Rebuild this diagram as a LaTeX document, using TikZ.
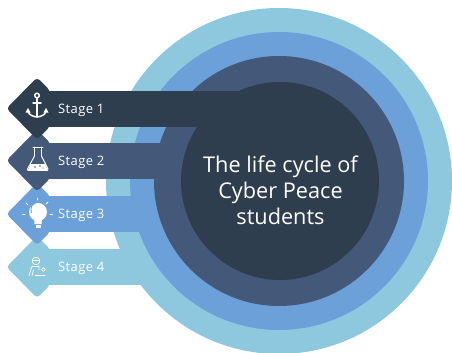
\documentclass[tikz,border=0pt]{standalone}
\usepackage{fontspec}
\setmainfont{Open Sans}
\newfontfamily\stagefont[LetterSpace=3]{Open Sans}
\definecolor{cA}{HTML}{2F3E4E}
\definecolor{cB}{HTML}{44597A}
\definecolor{cC}{HTML}{6CA0D8}
\definecolor{cD}{HTML}{8EC8DE}
\tikzset{
  stagelabel/.style={text=white,font=\stagefont\fontsize{13}{15}\selectfont,anchor=west,inner sep=0pt},
  titlelabel/.style={text=white,font=\fontsize{21.7}{26}\selectfont,align=center,inner sep=0pt},
  ico/.style={draw=white,line width=1.5pt,line cap=round,line join=round},
  icothin/.style={draw=white,line width=.9pt,line cap=round,line join=round},
  icofaint/.style={draw=white,line width=.7pt,line cap=round,line join=round},
}
% #1 colour, #2 centre y, #3 bar end x
\newcommand{\stagearrow}[3]{%
  \fill[#1,rounded corners=3.5pt] (6.5,#2) -- (37,#2+31) -- (50,#2+18) -- (50,#2-18) -- (37,#2-31) -- cycle;
  \fill[#1] (49,#2-18) rectangle (#3,#2+18);
}
\begin{document}
\begin{tikzpicture}[x=1pt,y=-1pt]
\useasboundingbox (0,0) rectangle (452,353);
% ring 4 and stage 4
\fill[cD] (279,181) circle[radius=173];
\stagearrow{cD}{267}{200}
% ring 3 and stage 3
\fill[cC] (279,181) circle[radius=149];
\stagearrow{cC}{214}{200}
% ring 2 and stage 2
\fill[cB] (279,181) circle[radius=125];
\stagearrow{cB}{160.5}{230}
% core and stage 1
\fill[cA] (280,181) circle[radius=99];
\stagearrow{cA}{108.5}{280}
% anchor icon
\draw[ico] (37,95.5) circle[radius=2.3];
\draw[ico] (37,98.5) -- (37,117);
\draw[ico] (33,103) -- (41,103);
\draw[ico] (28,111.5) .. controls (29,115) and (33,116.5) .. (37,117) .. controls (41,116.5) and (45,115) .. (46,111.5);
\fill[white] (25.5,112.5) -- (30.5,112.5) -- (28,108) -- cycle;
\fill[white] (43.5,112.5) -- (48.5,112.5) -- (46,108) -- cycle;
% flask icon
\draw[icothin] (33,147) -- (43,147);
\draw[icothin] (34.5,147) -- (34.5,156) -- (27.5,169) -- (28,170.5) -- (47.5,170.5) -- (48,169) -- (41.5,156) -- (41.5,147);
\fill[white] (30.5,164) -- (45,164) -- (47.5,170) -- (28,170) -- cycle;
\fill[cB] (35,167) circle[radius=.8] (40,166) circle[radius=.8] (43,168) circle[radius=.6];
% bulb icon
\fill[white] (38,212) circle[radius=9];
\fill[white] (34,217) -- (42,217) -- (41.5,224) -- (34.5,224) -- cycle;
\fill[white] (35.5,225) rectangle (40.5,228);
\draw[cC,line width=.9pt] (31.5,213) .. controls (30,207) and (32,204.5) .. (35,203.5);
\draw[icothin] (22.5,214) -- (25,214);
\draw[icothin] (50,214) -- (52.5,214);
\draw[icothin] (26,203) -- (28,205);
\draw[icothin] (48,202) -- (46,204);
\draw[icothin] (37,198) -- (37,200);
% person icon
\draw[icofaint] (36,261) circle[radius=3.8];
\draw[icofaint] (32.5,260) -- (39.5,260);
\draw[icofaint] (29,275.5) -- (32,266.5) -- (39,266.5) -- (39,270);
\draw[icofaint] (32,275.5) -- (33.5,270);
\draw[icofaint] (35,275.5) -- (45,275.5);
\draw[icofaint] (43.5,269.5) circle[radius=1.8];
% labels
\node[stagelabel] (s1) at (58,110) {Stage 1};
\node[stagelabel] (s2) at (58,162) {Stage 2};
\node[stagelabel] (s3) at (58,215) {Stage 3};
\node[stagelabel] (s4) at (58,268.5) {Stage 4};
\node[titlelabel] (title) at (280.5,190.5) {The life cycle of\\Cyber Peace\\students};
\end{tikzpicture}
\end{document}
